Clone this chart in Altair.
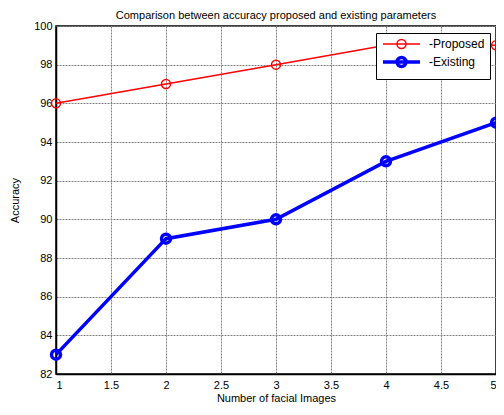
import altair as alt
import pandas as pd

x_vals = [1, 2, 3, 4, 5]
proposed = [96, 97, 98, 99, 99]
existing = [83, 89, 90, 93, 95]
series_names = ["-Proposed", "-Existing"]
x_ticks = [1, 1.5, 2, 2.5, 3, 3.5, 4, 4.5, 5]
y_ticks = [82, 84, 86, 88, 90, 92, 94, 96, 98, 100]

rows = []
for xv, p, e in zip(x_vals, proposed, existing):
    rows.append({"x": xv, "acc": p, "series": series_names[0]})
    rows.append({"x": xv, "acc": e, "series": series_names[1]})
df = pd.DataFrame(rows)

FONT = "Liberation Sans"
# legend glyph: a short line with a circle in the middle (units of 5 px)
sym_path = ("M-1,0L6.4,0M1.8,0A0.9,0.9,0,1,0,3.6,0"
            "A0.9,0.9,0,1,0,1.8,0")

xenc = alt.X("x:Q", scale=alt.Scale(domain=[1, 5], nice=False),
             axis=alt.Axis(values=x_ticks, format="~g", title="Number of facial Images",
                           labelPadding=5, titlePadding=2))
yenc = alt.Y("acc:Q", scale=alt.Scale(domain=[82, 100], nice=False),
             axis=alt.Axis(values=y_ticks, title="Accuracy", labelPadding=4,
                           titleX=-41, titleBaseline="middle"))
leg = alt.Legend(title=None, orient="none", legendX=320, legendY=7)
color = alt.Color("series:N",
                  scale=alt.Scale(domain=series_names, range=["#ff0000", "#0000ff"]),
                  legend=leg)
sw = alt.StrokeWidth("series:N",
                     scale=alt.Scale(domain=series_names, range=[1.5, 3.5]),
                     legend=leg)

lines = alt.Chart(df).mark_line().encode(x=xenc, y=yenc, color=color, strokeWidth=sw)
points = alt.Chart(df).mark_point(filled=False, size=80, opacity=1).encode(
    x=xenc, y=yenc, color=color, strokeWidth=sw)

chart = alt.layer(lines, points).properties(
    width=440, height=348,
    title=alt.Title("Comparison between accuracy proposed and existing parameters",
                    font=FONT, fontSize=11, fontWeight="normal", offset=8,
                    frame="group", dy=9),
    autosize=alt.AutoSizeParams(type="none"),
    padding={"left": 48, "top": 18, "right": 0, "bottom": 30},
).configure_view(stroke="#000000", strokeWidth=1.5).configure_axis(
    labelFont=FONT, titleFont=FONT, labelFontSize=11, titleFontSize=11,
    titleFontWeight="normal", labelColor="#000", titleColor="#000",
    domainColor="#000", domainWidth=1.5, ticks=False,
    gridColor="#808080", gridDash=[2, 1], gridWidth=1, gridOpacity=1,
).configure_legend(
    labelFont=FONT, labelFontSize=12, labelColor="#000",
    strokeColor="#000", fillColor="#fff", padding=5,
    symbolType=sym_path, symbolSize=100, symbolFillColor="transparent",
    labelOffset=34, rowPadding=-2,
)

chart.save("out.html", embed_options={"renderer": "svg", "actions": False})
